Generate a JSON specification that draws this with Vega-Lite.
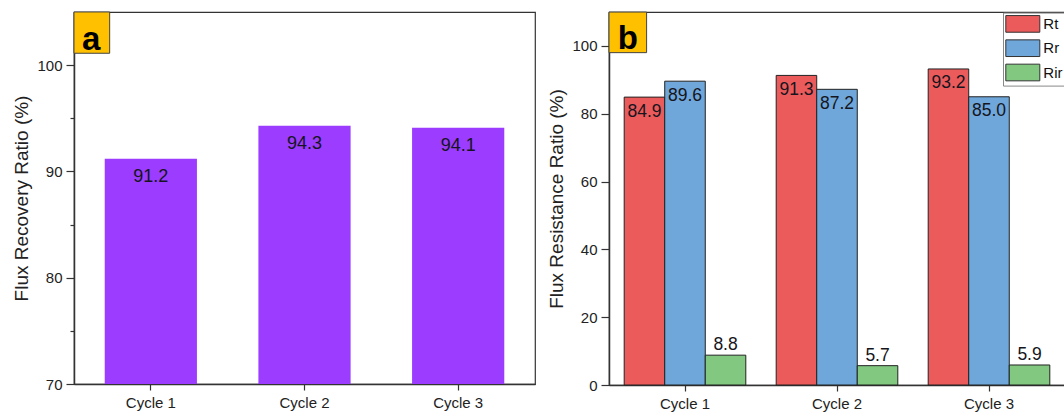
{
  "$schema": "https://vega.github.io/schema/vega-lite/v6.json",
  "padding": {"left": 12, "top": 9, "right": 0, "bottom": 0},
  "background": "white",
  "spacing": 11,
  "resolve": {"legend": {"color": "independent"}},
  "config": {
    "font": "Liberation Sans",
    "view": {"stroke": "#333", "strokeWidth": 1.2},
    "axis": {
      "grid": false,
      "domainColor": "#333", "domainWidth": 1.5,
      "tickColor": "#333", "tickWidth": 1.2,
      "labelFont": "Liberation Sans", "labelFontSize": 15, "labelColor": "#222",
      "titleFont": "Liberation Sans", "titleFontSize": 19, "titleFontWeight": "normal", "titleColor": "#222"
    }
  },
  "hconcat": [
    {
      "width": 461,
      "height": 372,
      "data": {"values": [
        {"cycle": "Cycle 1", "frr": 91.2},
        {"cycle": "Cycle 2", "frr": 94.3},
        {"cycle": "Cycle 3", "frr": 94.1}
      ]},
      "encoding": {
        "x": {"field": "cycle", "type": "nominal",
          "scale": {"paddingInner": 0.4, "paddingOuter": 0.2},
          "axis": {"title": null, "labelAngle": 0, "tickSize": 6, "labelPadding": 5}}
      },
      "layer": [
        {
          "mark": {"type": "bar", "color": "#9B3CFF"},
          "encoding": {
            "y": {"field": "frr", "type": "quantitative",
              "scale": {"domain": [70, 105], "nice": false, "zero": false},
              "axis": {"title": "Flux Recovery Ratio (%)", "values": [70, 75, 80, 85, 90, 95, 100],
                "labelExpr": "datum.value % 10 === 0 ? datum.label : ''",
                "tickSize": {"condition": {"test": "datum.value % 10 === 0", "value": 8}, "value": 4},
                "labelPadding": 4, "titlePadding": 5}},
            "y2": {"datum": 70}
          }
        },
        {
          "mark": {"type": "text", "baseline": "alphabetic", "dy": 23, "fontSize": 18, "color": "#151520"},
          "encoding": {
            "y": {"field": "frr", "type": "quantitative"},
            "text": {"field": "frr", "type": "quantitative", "format": ".1f"}
          }
        },
        {
          "data": {"values": [{"label": "a"}]},
          "mark": {"type": "point", "shape": "M-0.864,-1H0.864V1H-0.864Z", "size": 1706, "filled": true, "fill": "#FFC000", "stroke": "#444", "strokeWidth": 1, "opacity": 1},
          "encoding": {
            "x": {"datum": "Cycle 1", "bandPosition": -0.14},
            "y": {"datum": 103.06}
          }
        },
        {
          "data": {"values": [{"label": "a"}]},
          "mark": {"type": "text", "fontSize": 33, "fontWeight": "bold", "baseline": "alphabetic", "color": "#000"},
          "encoding": {
            "x": {"datum": "Cycle 1", "bandPosition": -0.146},
            "y": {"datum": 101.4},
            "text": {"field": "label"}
          }
        }
      ]
    },
    {
      "width": 456,
      "height": 373,
      "data": {"values": [
        {"cycle": "Cycle 1", "series": "Rt", "value": 84.9},
        {"cycle": "Cycle 1", "series": "Rr", "value": 89.6},
        {"cycle": "Cycle 1", "series": "Rir", "value": 8.8},
        {"cycle": "Cycle 2", "series": "Rt", "value": 91.3},
        {"cycle": "Cycle 2", "series": "Rr", "value": 87.2},
        {"cycle": "Cycle 2", "series": "Rir", "value": 5.7},
        {"cycle": "Cycle 3", "series": "Rt", "value": 93.2},
        {"cycle": "Cycle 3", "series": "Rr", "value": 85.0},
        {"cycle": "Cycle 3", "series": "Rir", "value": 5.9}
      ]},
      "encoding": {
        "x": {"field": "cycle", "type": "nominal",
          "scale": {"paddingInner": 0.2, "paddingOuter": 0.1},
          "axis": {"title": null, "labelAngle": 0, "tickSize": 6, "labelPadding": 5}}
      },
      "layer": [
        {
          "mark": {"type": "bar", "stroke": "#222", "strokeWidth": 1},
          "encoding": {
            "xOffset": {"field": "series", "type": "nominal", "sort": ["Rt", "Rr", "Rir"]},
            "y": {"field": "value", "type": "quantitative",
              "scale": {"domain": [0, 110], "nice": false},
              "axis": {"title": "Flux Resistance Ratio (%)", "values": [0, 10, 20, 30, 40, 50, 60, 70, 80, 90, 100],
                "labelExpr": "datum.value % 20 === 0 ? datum.label : ''",
                "tickSize": {"condition": {"test": "datum.value % 20 === 0", "value": 8}, "value": 4},
                "labelPadding": 4, "titlePadding": 5}},
            "color": {"field": "series", "type": "nominal",
              "scale": {"domain": ["Rt", "Rr", "Rir"], "range": ["#EC5B5B", "#6FA7DA", "#82C880"]},
              "legend": {"title": null, "orient": "none", "legendX": 394, "legendY": 0.6,
                "symbolType": "M-1,-0.98H3V0.98H-1Z", "symbolSize": 289,
                "symbolStrokeColor": "#333", "symbolStrokeWidth": 1, "symbolOpacity": 1,
                "labelFontSize": 15, "labelColor": "#111", "labelOffset": 20,
                "rowPadding": 2.3, "padding": 2.3, "strokeColor": "#888", "fillColor": "white"}}
          }
        },
        {
          "transform": [{"filter": "datum.series !== 'Rir'"}],
          "mark": {"type": "text", "baseline": "alphabetic", "dy": 19.5, "fontSize": 17.5, "color": "#151520"},
          "encoding": {
            "xOffset": {"field": "series", "type": "nominal", "sort": ["Rt", "Rr", "Rir"]},
            "y": {"field": "value", "type": "quantitative"},
            "text": {"field": "value", "type": "quantitative", "format": ".1f"}
          }
        },
        {
          "transform": [{"filter": "datum.series === 'Rir'"}],
          "mark": {"type": "text", "baseline": "alphabetic", "dy": -5, "fontSize": 17.5, "color": "#151520"},
          "encoding": {
            "xOffset": {"field": "series", "type": "nominal", "sort": ["Rt", "Rr", "Rir"]},
            "y": {"field": "value", "type": "quantitative"},
            "text": {"field": "value", "type": "quantitative", "format": ".1f"}
          }
        },
        {
          "data": {"values": [{"label": "b"}]},
          "mark": {"type": "point", "shape": "M-0.926,-1H0.926V1H-0.926Z", "size": 1648, "filled": true, "fill": "#FFC000", "stroke": "#444", "strokeWidth": 1, "opacity": 1},
          "encoding": {
            "x": {"datum": "Cycle 1", "bandPosition": 0.0296},
            "y": {"datum": 104.0}
          }
        },
        {
          "data": {"values": [{"label": "b"}]},
          "mark": {"type": "text", "fontSize": 33, "fontWeight": "bold", "baseline": "alphabetic", "color": "#000"},
          "encoding": {
            "x": {"datum": "Cycle 1", "bandPosition": 0.0296},
            "y": {"datum": 99.0},
            "text": {"field": "label"}
          }
        }
      ]
    }
  ]
}
